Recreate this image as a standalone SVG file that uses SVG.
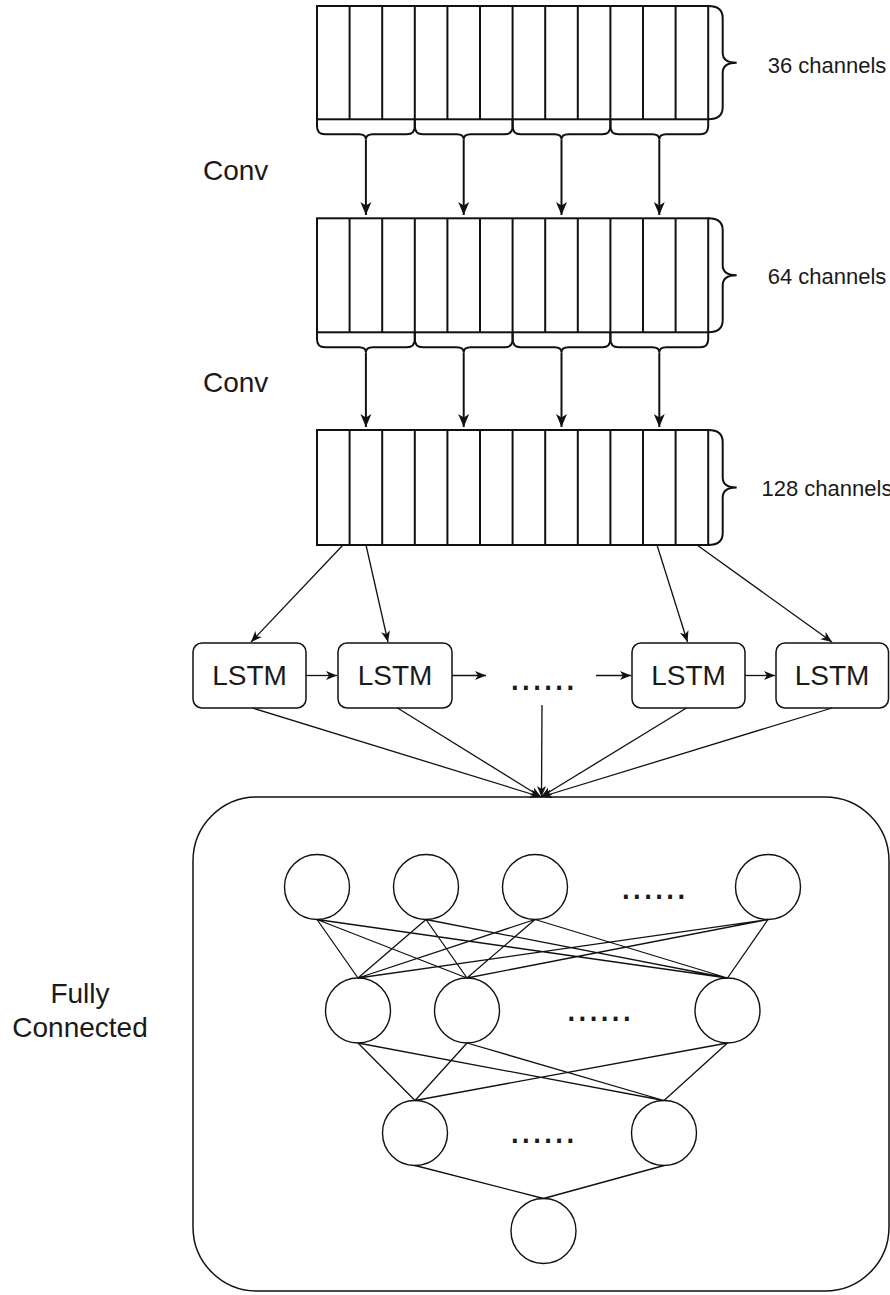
<svg xmlns="http://www.w3.org/2000/svg" width="890" height="1295" viewBox="0 0 890 1295">
<style>
.ln{fill:none;stroke:#111;stroke-width:2}
.blk{fill:#fff;stroke:#111;stroke-width:2}
.thin{fill:none;stroke:#111;stroke-width:1.3}
.box{fill:#fff;stroke:#111;stroke-width:1.5}
.nd{fill:#fff;stroke:#111;stroke-width:1.4}
.t{font-family:"Liberation Sans",Arial,sans-serif;fill:#1a1a1a}
.lbl{font-size:28px}
.ch{font-size:22px;text-anchor:middle}
.dots{font-size:40px;text-anchor:middle}
</style>
<defs>
<marker id="arr" markerUnits="userSpaceOnUse" markerWidth="14" markerHeight="12" viewBox="0 0 14 12" refX="13" refY="6" orient="auto">
<path d="M0,0.5 L13,6 L0,11.5 L3.5,6 Z" fill="#111"/>
</marker>
<marker id="arrs" markerUnits="userSpaceOnUse" markerWidth="12" markerHeight="10" viewBox="0 0 12 10" refX="11" refY="5" orient="auto">
<path d="M0,0.5 L11,5 L0,9.5 L3,5 Z" fill="#111"/>
</marker>
</defs>
<rect width="890" height="1295" fill="#fff"/>

<g id="block36">
<rect class="blk" x="317" y="6" width="391.2" height="113.3"/>
<path class="ln" d="M349.6,6V119.3M382.2,6V119.3M414.8,6V119.3M447.4,6V119.3M480,6V119.3M512.6,6V119.3M545.2,6V119.3M577.8,6V119.3M610.4,6V119.3M643,6V119.3M675.6,6V119.3"/>
<path class="ln" d="M708.2,6 Q722.7,6 722.7,18 L722.7,52.7 Q722.7,62.7 736.7,62.7 Q722.7,62.7 722.7,72.7 L722.7,107.3 Q722.7,119.3 708.2,119.3"/>
<path class="ln" d="M317,119.3 L317,126.3 Q317,134.3 325,134.3 L358.9,134.3 Q365.9,134.3 365.9,139.3 Q365.9,134.3 372.9,134.3 L406.8,134.3 Q414.8,134.3 414.8,126.3 L414.8,119.3"/>
<path class="ln" d="M414.8,119.3 L414.8,126.3 Q414.8,134.3 422.8,134.3 L456.7,134.3 Q463.7,134.3 463.7,139.3 Q463.7,134.3 470.7,134.3 L504.6,134.3 Q512.6,134.3 512.6,126.3 L512.6,119.3"/>
<path class="ln" d="M512.6,119.3 L512.6,126.3 Q512.6,134.3 520.6,134.3 L554.5,134.3 Q561.5,134.3 561.5,139.3 Q561.5,134.3 568.5,134.3 L602.4,134.3 Q610.4,134.3 610.4,126.3 L610.4,119.3"/>
<path class="ln" d="M610.4,119.3 L610.4,126.3 Q610.4,134.3 618.4,134.3 L652.3,134.3 Q659.3,134.3 659.3,139.3 Q659.3,134.3 666.3,134.3 L700.2,134.3 Q708.2,134.3 708.2,126.3 L708.2,119.3"/>
<text class="t ch" x="827" y="72.5">36 channels</text>
</g>

<g id="block64">
<rect class="blk" x="317" y="218.3" width="391.2" height="114"/>
<path class="ln" d="M349.6,218.3V332.3M382.2,218.3V332.3M414.8,218.3V332.3M447.4,218.3V332.3M480,218.3V332.3M512.6,218.3V332.3M545.2,218.3V332.3M577.8,218.3V332.3M610.4,218.3V332.3M643,218.3V332.3M675.6,218.3V332.3"/>
<path class="ln" d="M708.2,218.3 Q722.7,218.3 722.7,230.3 L722.7,265.3 Q722.7,275.3 736.7,275.3 Q722.7,275.3 722.7,285.3 L722.7,320.3 Q722.7,332.3 708.2,332.3"/>
<path class="ln" d="M317,332.3 L317,339.3 Q317,347.3 325,347.3 L358.9,347.3 Q365.9,347.3 365.9,352.3 Q365.9,347.3 372.9,347.3 L406.8,347.3 Q414.8,347.3 414.8,339.3 L414.8,332.3"/>
<path class="ln" d="M414.8,332.3 L414.8,339.3 Q414.8,347.3 422.8,347.3 L456.7,347.3 Q463.7,347.3 463.7,352.3 Q463.7,347.3 470.7,347.3 L504.6,347.3 Q512.6,347.3 512.6,339.3 L512.6,332.3"/>
<path class="ln" d="M512.6,332.3 L512.6,339.3 Q512.6,347.3 520.6,347.3 L554.5,347.3 Q561.5,347.3 561.5,352.3 Q561.5,347.3 568.5,347.3 L602.4,347.3 Q610.4,347.3 610.4,339.3 L610.4,332.3"/>
<path class="ln" d="M610.4,332.3 L610.4,339.3 Q610.4,347.3 618.4,347.3 L652.3,347.3 Q659.3,347.3 659.3,352.3 Q659.3,347.3 666.3,347.3 L700.2,347.3 Q708.2,347.3 708.2,339.3 L708.2,332.3"/>
<text class="t ch" x="827" y="283.5">64 channels</text>
</g>

<g id="block128">
<rect class="blk" x="317" y="430" width="391.2" height="115"/>
<path class="ln" d="M349.6,430V545M382.2,430V545M414.8,430V545M447.4,430V545M480,430V545M512.6,430V545M545.2,430V545M577.8,430V545M610.4,430V545M643,430V545M675.6,430V545"/>
<path class="ln" d="M708.2,430 Q722.7,430 722.7,442 L722.7,477.5 Q722.7,487.5 736.7,487.5 Q722.7,487.5 722.7,497.5 L722.7,533 Q722.7,545 708.2,545"/>
<text class="t ch" x="827" y="495.5">128 channels</text>
</g>

<g id="conv1"><text class="t lbl" x="203" y="180">Conv</text></g>
<g id="conv2"><text class="t lbl" x="203" y="392">Conv</text></g>

<g id="lstm1"><rect class="box" x="193" y="643" width="113" height="65" rx="9"/><text class="t lbl" x="249.5" y="685" text-anchor="middle">LSTM</text></g>
<g id="lstm2"><rect class="box" x="338" y="643" width="114" height="65" rx="9"/><text class="t lbl" x="395" y="685" text-anchor="middle">LSTM</text></g>
<g id="lstm-dots"><text class="t dots" x="542.5" y="690">......</text></g>
<g id="lstm3"><rect class="box" x="632" y="643" width="113" height="65" rx="9"/><text class="t lbl" x="688.5" y="685" text-anchor="middle">LSTM</text></g>
<g id="lstm4"><rect class="box" x="776" y="643" width="112.5" height="65" rx="9"/><text class="t lbl" x="832" y="685" text-anchor="middle">LSTM</text></g>

<g id="fc">
<rect class="box" x="193" y="797" width="696" height="494" rx="64"/>
</g>
<g id="fc-label"><text class="t lbl" x="80" y="1003" text-anchor="middle">Fully</text><text class="t lbl" x="80" y="1037" text-anchor="middle">Connected</text></g>

<g id="n11"><circle class="nd" cx="317" cy="887" r="32.5"/></g>
<g id="n12"><circle class="nd" cx="426" cy="887" r="32.5"/></g>
<g id="n13"><circle class="nd" cx="535" cy="887" r="32.5"/></g>
<g id="dots1"><text class="t dots" x="653.5" y="899">......</text></g>
<g id="n14"><circle class="nd" cx="768" cy="887" r="32.5"/></g>
<g id="n21"><circle class="nd" cx="358" cy="1010.5" r="32.5"/></g>
<g id="n22"><circle class="nd" cx="467" cy="1010.5" r="32.5"/></g>
<g id="dots2"><text class="t dots" x="599" y="1021">......</text></g>
<g id="n23"><circle class="nd" cx="727.5" cy="1010.5" r="32.5"/></g>
<g id="n31"><circle class="nd" cx="415" cy="1133" r="32.5"/></g>
<g id="dots3"><text class="t dots" x="542.5" y="1143">......</text></g>
<g id="n32"><circle class="nd" cx="664" cy="1133" r="32.5"/></g>
<g id="n41"><circle class="nd" cx="543.5" cy="1231" r="32.5"/></g>

<g id="connectors">
<g class="ln" marker-end="url(#arr)">
<path d="M365.9,139.3V215"/><path d="M463.7,139.3V215"/><path d="M561.5,139.3V215"/><path d="M659.3,139.3V215"/>
<path d="M365.9,352.3V427"/><path d="M463.7,352.3V427"/><path d="M561.5,352.3V427"/><path d="M659.3,352.3V427"/>
</g>
<g class="thin" marker-end="url(#arrs)">
<path d="M343,545 L251,642"/>
<path d="M366,545 L388,642"/>
<path d="M657,545 L687.5,642"/>
<path d="M697,545 L832,642"/>
<path d="M306,675.5 H337"/>
<path d="M452,675.5 H486"/>
<path d="M596,675.5 H631"/>
<path d="M745,675.5 H775"/>
<path d="M252.5,708 L541,797"/>
<path d="M397.5,708 L541,797"/>
<path d="M542,705 L541.5,797"/>
<path d="M686.5,708 L541,797"/>
<path d="M832,708 L541,797"/>
</g>
<path class="thin" d="M317,919.5L358,978M317,919.5L467,978M317,919.5L727.5,978M426,919.5L358,978M426,919.5L467,978M426,919.5L727.5,978M535,919.5L358,978M535,919.5L467,978M535,919.5L727.5,978M768,919.5L358,978M768,919.5L467,978M768,919.5L727.5,978"/>
<path class="thin" d="M358,1043L415,1100.5M358,1043L664,1100.5M467,1043L415,1100.5M467,1043L664,1100.5M727.5,1043L415,1100.5M727.5,1043L664,1100.5"/>
<path class="thin" d="M415,1165.5L543.5,1198.5M664,1165.5L543.5,1198.5"/>
</g>
</svg>
